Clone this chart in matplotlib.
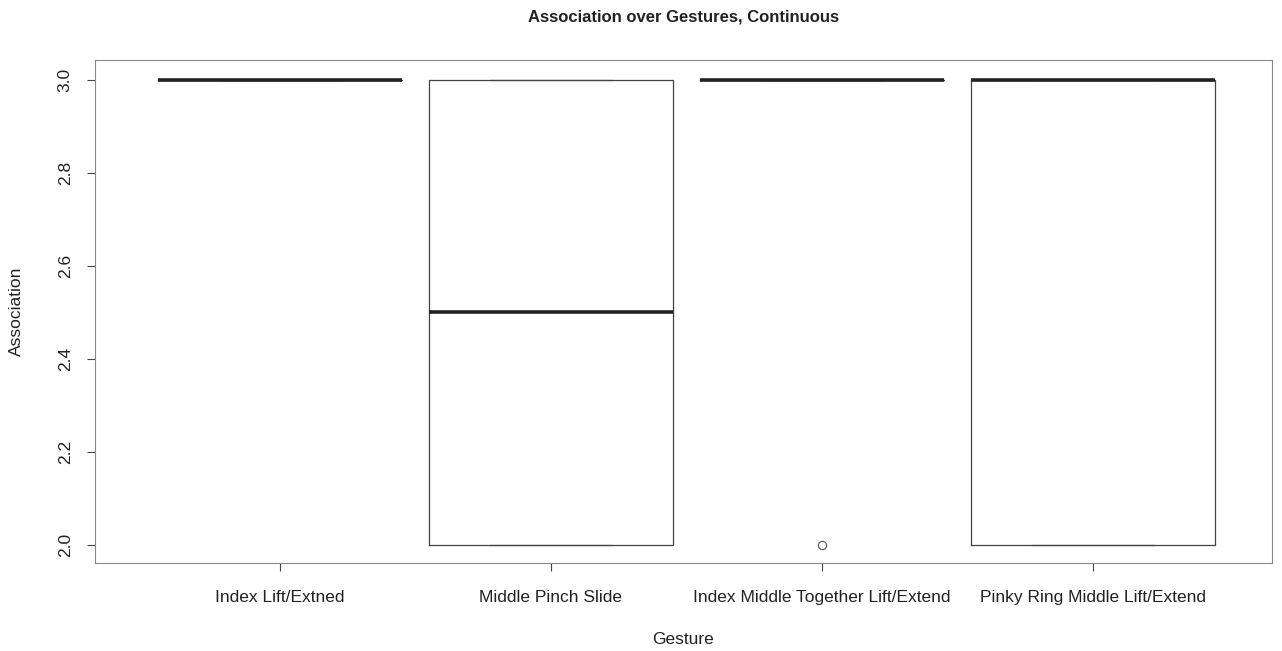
"""Boxplot of association ratings per gesture (continuous condition)."""
import matplotlib.pyplot as plt

plt.rcParams["font.family"] = ["Liberation Sans", "DejaVu Sans"]

gestures = [
    "Index Lift/Extned",
    "Middle Pinch Slide",
    "Index Middle Together Lift/Extend",
    "Pinky Ring Middle Lift/Extend",
]
index_lift = [3, 3, 3, 3, 3, 3]
middle_pinch = [2, 2, 2, 3, 3, 3]
index_middle = [2, 3, 3, 3, 3, 3]
pinky_ring = [2, 2, 2, 3, 3, 3, 3]
yticks = [2.0, 2.2, 2.4, 2.6, 2.8, 3.0]

fig = plt.figure(figsize=(12.82, 6.51), dpi=100)
ax = fig.add_axes([0.074, 0.135, 0.918, 0.773])

positions = [1, 2, 3, 4]
ax.boxplot(
    [index_lift, middle_pinch, index_middle, pinky_ring],
    positions=positions,
    widths=0.9,
    whis=1.5,
    boxprops=dict(color="#444444", linewidth=0.9),
    whiskerprops=dict(color="#444444", linewidth=0.9, linestyle="--"),
    capprops=dict(color="#444444", linewidth=0.9),
    capwidths=0.45,
    medianprops=dict(color="#222222", linewidth=2.6),
    flierprops=dict(marker="o", markersize=6, markerfacecolor="none",
                    markeredgecolor="#555555", markeredgewidth=0.8),
)

ax.set_xlim(0.317, 4.66)
ax.set_ylim(1.961, 3.043)
ax.set_yticks(yticks)
ax.set_yticklabels([f"{v:.1f}" for v in yticks], rotation=90, va="center")
ax.set_xticks(positions)
ax.set_xticklabels(gestures)
ax.tick_params(direction="out", length=6, width=0.8, colors="#444444",
               labelcolor="#222222", labelsize=12.5)
ax.tick_params(axis="x", pad=13)
ax.tick_params(axis="y", pad=10)

for spine in ax.spines.values():
    spine.set_color("#888888")
    spine.set_linewidth(0.8)

ax.set_xlabel("Gesture", fontsize=12.5, color="#222222", labelpad=20)
ax.set_ylabel("Association", fontsize=12.5, color="#222222", labelpad=24)
ax.set_title("Association over Gestures, Continuous", fontsize=12,
             fontweight="bold", color="#222222", pad=28)

fig.savefig("out.png", dpi=100)
